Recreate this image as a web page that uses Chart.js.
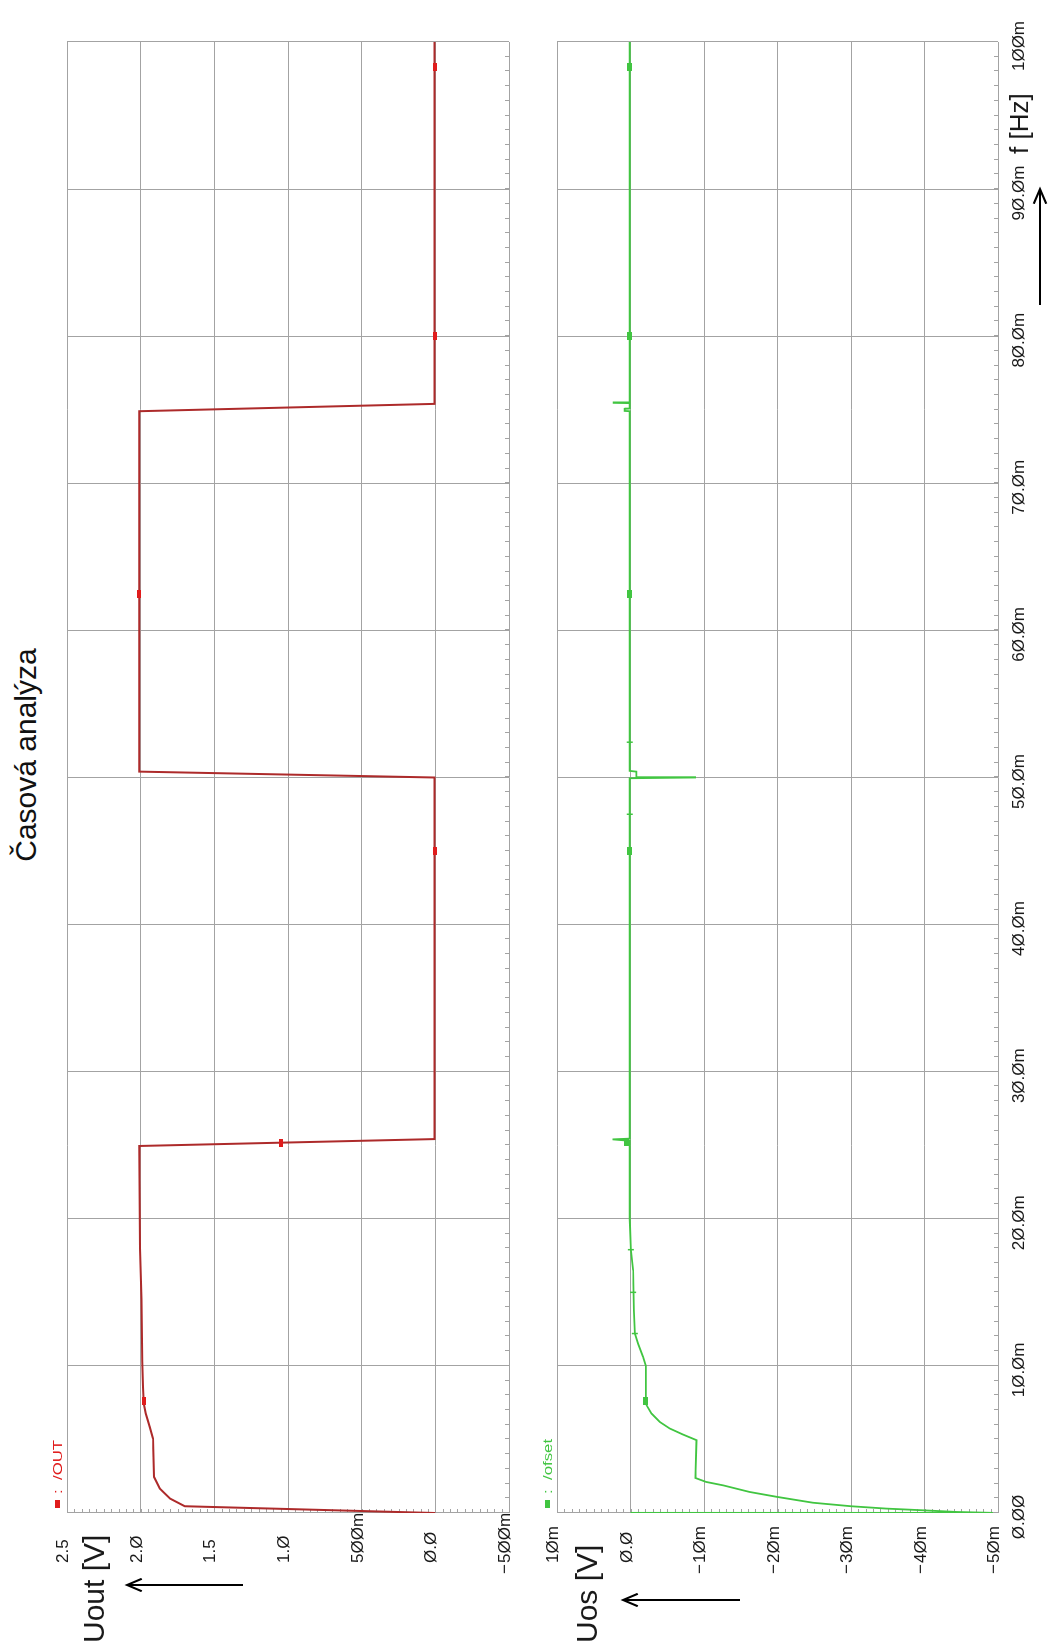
<!DOCTYPE html>
<html>
<head>
<meta charset="utf-8">
<title>Časová analýza</title>
<script src="https://cdn.jsdelivr.net/npm/chart.js@4.4.1/dist/chart.umd.min.js"></script>
<style>
  html, body { margin: 0; padding: 0; background: #fff; }
  body { width: 1058px; height: 1648px; overflow: hidden; position: relative; }
  /* the sheet is laid out landscape, then turned a quarter turn to the left */
  #sheet { position: absolute; left: 0; top: 0; width: 1648px; height: 1058px;
           transform-origin: 0 0; transform: translateY(1648px) rotate(-90deg); }
  #sheet canvas { position: absolute; left: 0; top: 0; }
  #title { position: absolute; left: 0; top: 9px; width: 1786px; text-align: center;
           font: 30px "Liberation Sans", Arial, sans-serif; line-height: 34px; color: #111; }
</style>
</head>
<body>
<div id="sheet">
  <div id="title">Časová analýza</div>
  <canvas id="outChart" width="1648" height="1058"></canvas>
  <canvas id="osChart" width="1648" height="1058"></canvas>
</div>
<script>
// ---- data (time in ms) ----
// Uout [V]
const outTime = [0, 0.46, 0.98, 1.66, 2.45, 5.06, 5.85, 6.76, 7.44, 8.57, 10.3, 14.5, 18.0, 24.95, 25.42, 50.0, 50.4, 74.9, 75.4, 100];
const outVolt = [0, 1.70, 1.80, 1.87, 1.909, 1.916, 1.938, 1.965, 1.979, 1.984, 1.99, 1.995, 2.005, 2.01, 0.005, 0.005, 2.01, 2.01, 0.005, 0.005];
const outMarkTime = [7.6, 25.17, 45.0, 62.5, 80.0, 98.3];
const outMarkVolt = [1.98, 1.05, 0.005, 2.01, 0.005, 0.005];

// Uos [mV]
const osTime = [0, 0.01, 0.07, 0.18, 0.30, 0.46, 0.70, 1.09, 1.43, 1.88,
                2.11, 2.38, 4.95, 5.33, 5.74, 6.19, 6.76, 7.33, 7.6, 10.0,
                10.6, 11.5, 12.2, 13.8, 16.5, 17.9, 20.0, 25.3, 25.4, 25.45,
                49.95, 50.0, 50.02, 50.4, 50.45, 74.9, 74.92, 75.06, 75.08, 75.45,
                75.47, 75.5, 100];
const osMilli = [0, -49.3, -44.4, -40.0, -34.8, -30.0, -24.8, -20.0, -16.2, -12.6,
                 -10.3, -8.84, -8.98, -7.16, -5.35, -3.99, -2.86, -2.18, -2.1, -2.08,
                 -1.72, -1.04, -0.59, -0.45, -0.36, -0.05, 0.1, 0.1, 2.45, 0.1,
                 0.1, -8.8, -0.8, -0.8, 0.1, 0.1, 0.8, 0.8, 0.1, 0.1,
                 2.4, 0.1, 0.1];
const osMarkTime = [7.6, 25.2, 45.0, 62.5, 80.0, 98.3];
const osMarkMilli = [-2.1, 0.6, 0.1, 0.1, 0.1, 0.1];
const osDashTime = [12.2, 15.0, 17.9, 47.5, 52.4];
const osDashMilli = [-0.59, -0.36, -0.05, 0.1, 0.1];

// axis ranges / tick steps
const timeRange = [0, 100, 10, 1];          // min, max, major, minor
const outRange = [-0.5, 2.5, 0.5, 0.05];
const osRange = [-50, 10, 10, 1];

const RED = '#ad2a2a';
const RED_MARK = '#e01c1c';
const GREEN = '#41c541';
const GRID = '#a3a3a3';
const INK = '#1a1a1a';
const SANS = '"Liberation Sans", Arial, sans-serif';
const TICK_FONT = '17px ' + SANS;

const pts = (xs, ys) => xs.map((x, i) => ({ x, y: ys[i] }));
const slashed = s => s.replace(/0/g, 'Ø');

function voltLabel(v) {
  if (Math.abs(v) < 1e-9) return '0.0';
  if (Math.abs(v) < 1) return (v < 0 ? '−' : '') + Math.round(Math.abs(v) * 1000) + 'm';
  return v.toFixed(1);
}
function milliLabel(v) {
  if (Math.abs(v) < 1e-9) return '0.0';
  return (v < 0 ? '−' : '') + Math.abs(v) + 'm';
}
function timeLabel(t) {
  if (t === 0) return '0.00';
  if (t >= 100) return Math.round(t) + 'm';
  return t.toFixed(1) + 'm';
}

// little filled bar used as the trace marker
function markImage(color, w, h) {
  const c = document.createElement('canvas');
  c.width = w; c.height = h;
  const g = c.getContext('2d');
  g.fillStyle = color;
  g.fillRect(0, 0, w, h);
  return c;
}

function arrow(ctx, x0, y0, x1, y1) {
  const a = Math.atan2(y1 - y0, x1 - x0);
  ctx.beginPath();
  ctx.moveTo(x0, y0);
  ctx.lineTo(x1, y1);
  ctx.moveTo(x1 - 16 * Math.cos(a - 0.4), y1 - 16 * Math.sin(a - 0.4));
  ctx.lineTo(x1, y1);
  ctx.lineTo(x1 - 16 * Math.cos(a + 0.4), y1 - 16 * Math.sin(a + 0.4));
  ctx.strokeStyle = '#000';
  ctx.lineWidth = 2;
  ctx.stroke();
}

// frame extras: minor ticks, tick labels, legend, axis names
function decor(cfg) {
  return {
    id: 'decor',
    beforeDatasetsDraw(chart) {
      const ctx = chart.ctx, area = chart.chartArea;
      const xs = chart.scales.x, ys = chart.scales.y;
      ctx.save();
      ctx.strokeStyle = GRID;
      ctx.lineWidth = 1;
      ctx.beginPath();
      const nx = Math.round((xs.max - xs.min) / cfg.xMinor);
      for (let i = 0; i <= nx; i++) {
        const px = Math.round(xs.getPixelForValue(xs.min + i * cfg.xMinor)) + 0.5;
        ctx.moveTo(px, area.bottom);
        ctx.lineTo(px, area.bottom - 4);
      }
      const ny = Math.round((ys.max - ys.min) / cfg.yMinor);
      for (let i = 0; i <= ny; i++) {
        const py = Math.round(ys.getPixelForValue(ys.min + i * cfg.yMinor)) + 0.5;
        ctx.moveTo(area.left, py);
        ctx.lineTo(area.left + 4, py);
      }
      ctx.stroke();
      ctx.restore();
    },
    afterDraw(chart) {
      const ctx = chart.ctx;
      const xs = chart.scales.x, ys = chart.scales.y;
      ctx.save();

      // value labels sit on their grid line, the minus sign hangs left
      ctx.fillStyle = INK;
      ctx.font = TICK_FONT;
      ctx.textBaseline = 'alphabetic';
      ys.ticks.forEach(tk => {
        const py = ys.getPixelForValue(tk.value) + 1;
        let s = slashed(cfg.yLabel(tk.value));
        if (s[0] === '−') {
          ctx.textAlign = 'right';
          ctx.fillText('−', 84, py);
          s = s.slice(1);
        }
        ctx.textAlign = 'left';
        ctx.fillText(s, 85, py);
      });

      if (cfg.timeLabels) {
        ctx.textAlign = 'center';
        xs.ticks.forEach(tk => {
          ctx.fillText(slashed(timeLabel(tk.value)), xs.getPixelForValue(tk.value) - 4, 1024);
        });
        ctx.font = '26px ' + SANS;
        ctx.textAlign = 'left';
        ctx.fillText('f [Hz]', 1494, 1028);
        arrow(ctx, 1343, 1040, 1459, 1040);
      }

      // trace legend
      ctx.fillStyle = cfg.color;
      ctx.fillRect(140, cfg.legendY - 7, 8, 5);
      ctx.font = '12px ' + SANS;
      ctx.textAlign = 'left';
      ctx.save();
      ctx.translate(154, cfg.legendY);
      ctx.scale(1.4, 1);
      ctx.fillText(':', 0, 0);
      ctx.fillText(cfg.name, 10, 0);
      ctx.restore();

      // axis name with its arrow
      ctx.fillStyle = INK;
      ctx.font = '30px ' + SANS;
      ctx.fillText(cfg.title, 5, cfg.titleY);
      arrow(ctx, cfg.arrowX, cfg.arrowFrom, cfg.arrowX, cfg.arrowTo);
      ctx.restore();
    }
  };
}

function scaleOpts(range) {
  return {
    type: 'linear',
    min: range[0],
    max: range[1],
    ticks: { display: false, stepSize: range[2] },
    grid: { color: GRID, lineWidth: 1, drawTicks: false },
    border: { display: false }
  };
}

function traceChart(id, datasets, yRange, padding, cfg) {
  return new Chart(document.getElementById(id), {
    type: 'scatter',
    data: { datasets },
    options: {
      responsive: false,
      animation: false,
      events: [],
      layout: { padding },
      plugins: { legend: { display: false }, tooltip: { enabled: false } },
      scales: { x: scaleOpts(timeRange), y: scaleOpts(yRange) }
    },
    plugins: [decor(cfg)]
  });
}

traceChart('outChart', [
  { data: pts(outMarkTime, outMarkVolt), showLine: false, pointStyle: markImage(RED_MARK, 8, 4), pointRadius: 4 },
  { data: pts(outTime, outVolt), showLine: true, borderColor: RED, borderWidth: 2, pointRadius: 0 }
], outRange, { left: 135, right: 42, top: 67, bottom: 549 }, {
  xMinor: timeRange[3], yMinor: outRange[3], yLabel: voltLabel, timeLabels: false,
  color: RED_MARK, name: '/OUT', legendY: 62,
  title: 'Uout [V]', titleY: 104, arrowX: 63, arrowFrom: 243, arrowTo: 127
});

traceChart('osChart', [
  { data: pts(osMarkTime, osMarkMilli), showLine: false, pointStyle: markImage(GREEN, 8, 5), pointRadius: 4 },
  { data: pts(osDashTime, osDashMilli), showLine: false, pointStyle: 'line', rotation: 90, pointRadius: 3, borderColor: GREEN, borderWidth: 1.5 },
  { data: pts(osTime, osMilli), showLine: true, borderColor: GREEN, borderWidth: 1.8, pointRadius: 0 }
], osRange, { left: 135, right: 42, top: 557, bottom: 60 }, {
  xMinor: timeRange[3], yMinor: osRange[3], yLabel: milliLabel, timeLabels: true,
  color: GREEN, name: '/ofset', legendY: 552,
  title: 'Uos [V]', titleY: 597, arrowX: 48, arrowFrom: 740, arrowTo: 623
});
</script>
</body>
</html>
